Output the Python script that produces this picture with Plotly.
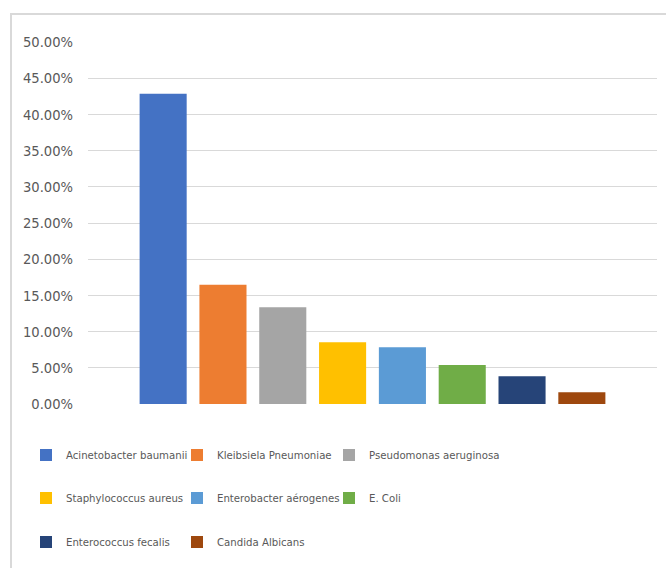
import plotly.graph_objects as go

categories = ["Acinetobacter baumanii", "Kleibsiela Pneumoniae", "Pseudomonas aeruginosa",
              "Staphylococcus aureus", "Enterobacter aérogenes", "E. Coli",
              "Enterococcus fecalis", "Candida Albicans"]
values = [0.4286, 0.1648, 0.1337, 0.0853, 0.0785, 0.0540, 0.0384, 0.0162]
colors = ["#4472C4", "#ED7D31", "#A5A5A5", "#FFC000", "#5B9BD5", "#70AD47", "#264478", "#9E480E"]
tick_vals = [i * 0.05 for i in range(11)]
tick_text = ["%.2f%%" % (v * 100) for v in tick_vals]

W, H = 666, 568
ML, MR, MT, MB = 88, 9, 42, 164
PW, PH = W - ML - MR, H - MT - MB

FONT = "DejaVu Sans Condensed, Liberation Sans Narrow, sans-serif"

# legend grid: 3 columns x 3 rows (pixel positions of each legend item box)
col_x = [26, 177, 329]
row_y = [455, 498, 542]

def px_x(x):
    return (x - ML) / PW

def px_y(y):
    return 1 - (y - MT) / PH

fig = go.Figure()
legend_layout = {}
for i, (name, v, c) in enumerate(zip(categories, values, colors)):
    lid = "legend" if i == 0 else "legend%d" % (i + 1)
    fig.add_trace(go.Bar(x=[""], y=[v], name=name, marker=dict(color=c, line=dict(width=0)),
                         legend=lid, hoverinfo="y+name"))
    legend_layout[lid] = dict(orientation="h", xanchor="left", yanchor="middle",
                              x=px_x(col_x[i % 3]), y=px_y(row_y[i // 3]),
                              font=dict(family=FONT, size=11.3, color="#595959"),
                              bgcolor="rgba(0,0,0,0)", borderwidth=0,
                              itemclick=False, itemdoubleclick=False)

fig.update_layout(
    width=W, height=H,
    margin=dict(l=ML, r=MR, t=MT, b=MB),
    paper_bgcolor="white", plot_bgcolor="white",
    barmode="group", bargap=0.159, bargroupgap=0.213,
    showlegend=True,
    xaxis=dict(showticklabels=False, showgrid=False, zeroline=False, showline=False, ticks=""),
    yaxis=dict(range=[0, 0.5], tickvals=tick_vals, ticktext=tick_text,
               showgrid=True, gridcolor="#D9D9D9", gridwidth=1.3,
               zeroline=False, showline=False, ticks="", ticklabelstandoff=14,
               tickfont=dict(family=FONT, size=14.6, color="#595959")),
    font=dict(family=FONT, color="#595959"),
    shapes=[dict(type="rect", xref="paper", yref="paper",
                 x0=px_x(11), x1=px_x(W + 5), y0=px_y(H + 5), y1=px_y(14),
                 line=dict(color="#D9D9D9", width=2), fillcolor="rgba(0,0,0,0)", layer="below")],
    **legend_layout,
)

fig.write_html("out.html")
